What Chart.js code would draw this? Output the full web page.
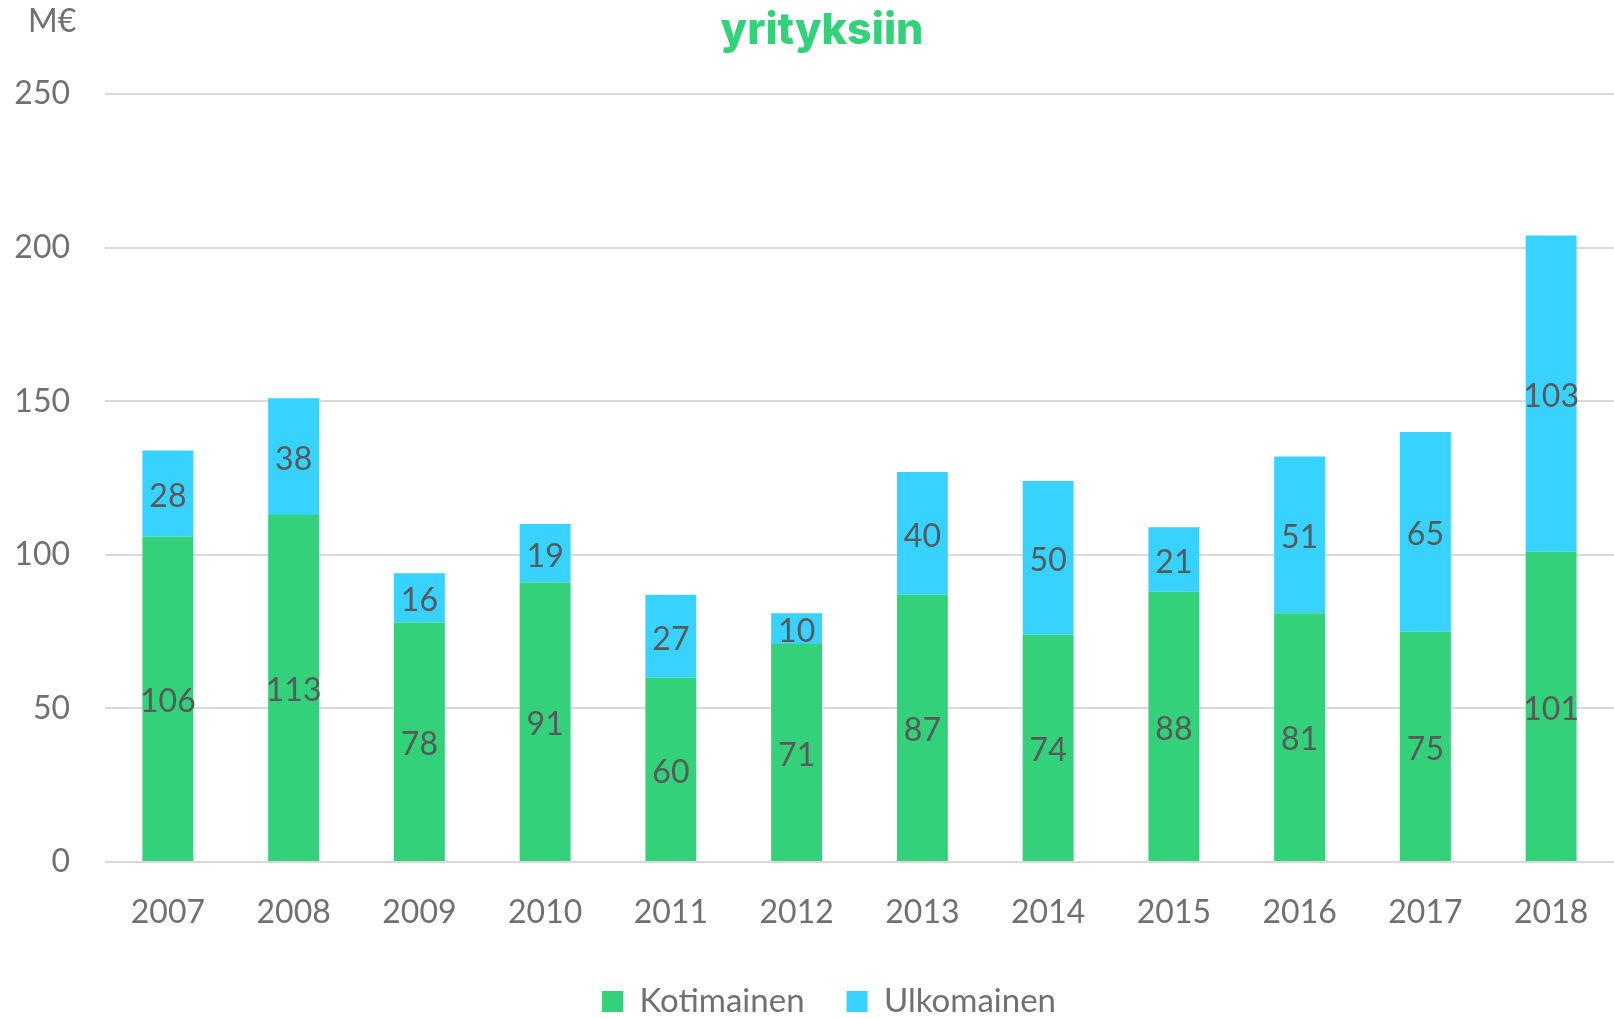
<!DOCTYPE html>
<html>
<head>
<meta charset="utf-8">
<script src="https://cdn.jsdelivr.net/npm/chart.js@4/dist/chart.umd.min.js"></script>
<style>
  html, body { margin: 0; padding: 0; background: #fff; }
  #wrap { width: 1614px; height: 1018px; }
</style>
</head>
<body>
<div id="wrap"><canvas id="chart" width="1614" height="1018"></canvas></div>
<script>
const years = ['2007', '2008', '2009', '2010', '2011', '2012', '2013', '2014', '2015', '2016', '2017', '2018'];
const kotimainen = [106, 113, 78, 91, 60, 71, 87, 74, 88, 81, 75, 101];
const ulkomainen = [28, 38, 16, 19, 27, 10, 40, 50, 21, 51, 65, 103];
const yTicks = [0, 50, 100, 150, 200, 250];

const green = '#33d17a';
const blue = '#38d2ff';
const tickColor = '#707070';
const labelColor = '#595959';
const baseFont = 'Lato';

// value labels in the middle of each stacked segment
const segmentLabels = {
  id: 'segmentLabels',
  afterDatasetsDraw(chart) {
    const ctx = chart.ctx;
    ctx.save();
    ctx.font = '32px ' + baseFont;
    ctx.fillStyle = labelColor;
    ctx.textAlign = 'center';
    ctx.textBaseline = 'middle';
    chart.data.datasets.forEach((ds, i) => {
      chart.getDatasetMeta(i).data.forEach((bar, j) => {
        const { x, y, base } = bar.getProps(['x', 'y', 'base'], true);
        ctx.fillText(String(ds.data[j]), x, (y + base) / 2 + 3);
      });
    });
    ctx.restore();
  }
};

// unit label in the top left corner; nudge title and legend a bit right
const unitLabel = {
  id: 'unitLabel',
  afterLayout(chart) {
    chart.titleBlock.left += 30;
    chart.legend.left += 44;
  },
  afterDraw(chart) {
    const ctx = chart.ctx;
    ctx.save();
    ctx.font = '32px ' + baseFont;
    ctx.fillStyle = tickColor;
    ctx.textAlign = 'left';
    ctx.textBaseline = 'alphabetic';
    ctx.fillText('M€', 28, 32);
    ctx.restore();
  }
};

new Chart(document.getElementById('chart'), {
  type: 'bar',
  data: {
    labels: years,
    datasets: [
      { label: 'Kotimainen', data: kotimainen, backgroundColor: green },
      { label: 'Ulkomainen', data: ulkomainen, backgroundColor: blue }
    ]
  },
  options: {
    responsive: false,
    animation: false,
    layout: { padding: { top: 0, left: 0, right: 0, bottom: -10 } },
    datasets: { bar: { barPercentage: 0.405, categoryPercentage: 1 } },
    plugins: {
      title: {
        display: true,
        text: 'yrityksiin',
        color: green,
        font: { family: 'Inter', size: 43, weight: 800 },
        padding: { top: 5, bottom: 37.5 }
      },
      legend: {
        position: 'bottom',
        labels: {
          boxWidth: 21,
          boxHeight: 21,
          padding: 42,
          color: tickColor,
          font: { family: baseFont, size: 33 }
        }
      },
      tooltip: { enabled: false }
    },
    scales: {
      x: {
        stacked: true,
        grid: { display: false },
        border: { display: false },
        ticks: { color: tickColor, padding: 23, font: { family: baseFont, size: 32 } },
        afterFit(scale) { scale.height = 81; }
      },
      y: {
        stacked: true,
        min: 0,
        max: 250,
        afterBuildTicks(scale) { scale.ticks = yTicks.map(v => ({ value: v })); },
        grid: { color: '#d9d9d9', lineWidth: 2, drawTicks: false },
        border: { display: false },
        ticks: { color: tickColor, padding: 35, font: { family: baseFont, size: 32 } },
        afterFit(scale) { scale.width = 105; }
      }
    }
  },
  plugins: [segmentLabels, unitLabel]
});
</script>
</body>
</html>
